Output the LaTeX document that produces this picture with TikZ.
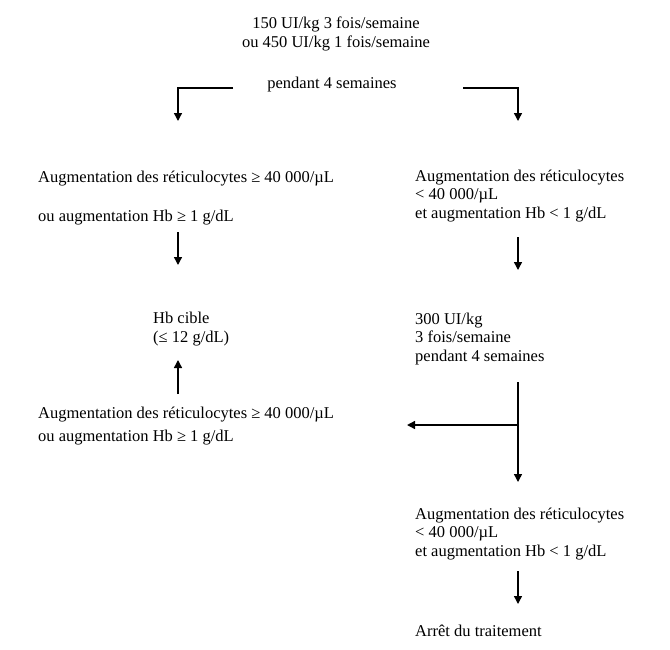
\documentclass[tikz,border=0pt]{standalone}
\usepackage{fontspec}
\setmainfont{Liberation Serif}
\usetikzlibrary{arrows.meta}
\begin{document}
\begin{tikzpicture}[x=1pt,y=-1pt,
  txt/.style={inner sep=0pt, anchor=base west, align=left, font=\fontsize{16.5}{18.5}\selectfont},
  ctxt/.style={inner sep=0pt, anchor=base, align=center, font=\fontsize{16.5}{18.5}\selectfont},
  arr/.style={line width=1.4pt, -{Triangle[length=8pt,width=8pt]}}]
\useasboundingbox (0,0) rectangle (670,649);

% texts (anchor = baseline of the last line)
\node[ctxt] (dose) at (336,47) {150 UI/kg 3 fois/semaine\\ou 450 UI/kg 1 fois/semaine};
\node[ctxt] (pend) at (332,88) {pendant 4 semaines};
\node[txt] (L1) at (38,221) {Augmentation des réticulocytes ≥ 40 000/µL\\[20.5pt]ou augmentation Hb ≥ 1 g/dL};
\node[txt] (R1) at (415,218) {Augmentation des réticulocytes\\< 40 000/µL\\et augmentation Hb < 1 g/dL};
\node[txt] (cible) at (153,342) {Hb cible\\(≤ 12 g/dL)};
\node[txt] (R2) at (415,361) {300 UI/kg\\3 fois/semaine\\pendant 4 semaines};
\node[txt] (L2) at (38,441) {Augmentation des réticulocytes ≥ 40 000/µL\\[4.5pt]ou augmentation Hb ≥ 1 g/dL};
\node[txt] (R3) at (415,556) {Augmentation des réticulocytes\\< 40 000/µL\\et augmentation Hb < 1 g/dL};
\node[txt] (stop) at (415,636) {Arrêt du traitement};

% connector points
\coordinate (tl) at (233,88);
\coordinate (tlc) at (178,88);
\coordinate (tle) at (178,121);
\coordinate (tr) at (463,88);
\coordinate (trc) at (518,88);
\coordinate (tre) at (518,121);
\coordinate (a1s) at (178,232);
\coordinate (a1e) at (178,265);
\coordinate (a2s) at (518,237);
\coordinate (a2e) at (518,270);
\coordinate (a3s) at (178,394);
\coordinate (a3e) at (178,360);
\coordinate (a4s) at (518,382);
\coordinate (a4m) at (518,425);
\coordinate (a4l) at (407,425);
\coordinate (a4e) at (518,482);
\coordinate (a5s) at (518,571);
\coordinate (a5e) at (518,604);

\draw[arr] (tl) -- (tlc) -- (tle);
\draw[arr] (tr) -- (trc) -- (tre);
\draw[arr] (a1s) -- (a1e);
\draw[arr] (a2s) -- (a2e);
\draw[arr] (a3s) -- (a3e);
\draw[arr] (a4s) -- (a4e);
\draw[arr] (a4m) -- (a4l);
\draw[arr] (a5s) -- (a5e);
\end{tikzpicture}
\end{document}
